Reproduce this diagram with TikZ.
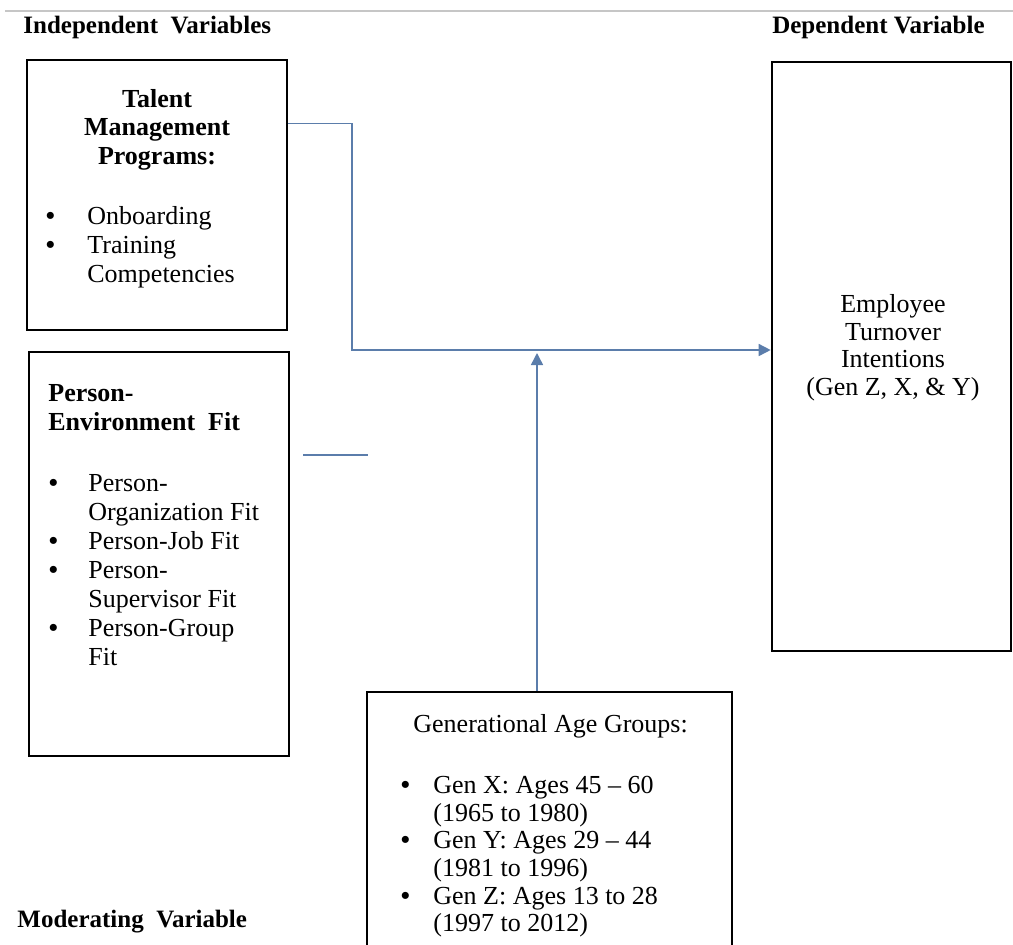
\documentclass[tikz,border=0pt]{standalone}
\usepackage{fontspec}
\setmainfont{Liberation Serif}
\usepackage{xcolor}
\usepackage{tikz}
\usetikzlibrary{arrows.meta, positioning, calc}
\definecolor{linkblue}{HTML}{5B7DAB}
\newcommand{\bulitem}[2][19pt]{\makebox[#1][l]{\bfseries\textbullet}#2}

\begin{document}
\begin{tikzpicture}[
    x=0.5pt, y=-0.5pt,
    varbox/.style={draw, line width=1.3pt, inner sep=0pt},
    boxtext/.style={inner sep=0pt, align=left, font=\fontsize{13pt}{14.5pt}\selectfont},
    heading/.style={inner sep=0pt, font=\bfseries\fontsize{12.5pt}{15pt}\selectfont},
    conn/.style={draw=linkblue, line width=0.75pt},
    connarrow/.style={conn, -{Triangle[length=6pt, width=6pt]}},
]
\clip (0,0) rectangle (1013,944);

% Headings
\draw[gray!45, line width=1pt] (5,11) -- (1013,11);
\node[heading, anchor=west] (indep) at (23,27) {Independent\ \ Variables};
\node[heading, anchor=east] (dep) at (985,27) {Dependent Variable};
\node[heading, anchor=west] (moder) at (17,922) {Moderating\ \ Variable};

% Independent variables
\node[varbox, minimum width=130pt, minimum height=135pt] (tmp) at (157,195) {};
\node[boxtext, align=center, anchor=north, font=\bfseries\fontsize{13pt}{14.25pt}\selectfont] (tmptitle) at (157,89) {Talent\\Management\\Programs:};
\node[boxtext, anchor=north west] (tmplist) at (45.5,206) {\bulitem[20.75pt]{Onboarding}\\\bulitem[20.75pt]{Training}\\\hspace*{20.75pt}Competencies};

\node[varbox, minimum width=130pt, minimum height=202pt] (pef) at (159,554) {};
\node[boxtext, anchor=north west, font=\bfseries\fontsize{13pt}{14.5pt}\selectfont] (peftitle) at (48,384) {Person-\\Environment\ \ Fit};
\node[boxtext, anchor=north west] (peflist) at (48.5,474) {\bulitem[19.75pt]{Person-}\\\hspace*{19.75pt}Organization Fit\\\bulitem[19.75pt]{Person-Job Fit}\\\bulitem[19.75pt]{Person-}\\\hspace*{19.75pt}Supervisor Fit\\\bulitem[19.75pt]{Person-Group}\\\hspace*{19.75pt}Fit};

% Dependent variable
\node[varbox, minimum width=119.5pt, minimum height=294.5pt] (eti) at (891.5,356.5) {};
\node[boxtext, align=center, anchor=north, font=\fontsize{13pt}{13.8pt}\selectfont] (etitext) at (893,294) {Employee\\Turnover\\Intentions\\(Gen Z, X, \& Y)};

% Moderating variable
\node[varbox, minimum width=182.5pt, minimum height=134pt] (gen) at (549.5,826) {};
\node[boxtext, anchor=north west] (gentitle) at (413,714) {Generational Age Groups:};
\node[boxtext, anchor=north west, font=\fontsize{13pt}{13.8pt}\selectfont] (genlist) at (400.5,776) {\bulitem[16.25pt]{Gen X: Ages 45 -- 60}\\\hspace*{16.25pt}(1965 to 1980)\\\bulitem[16.25pt]{Gen Y: Ages 29 -- 44}\\\hspace*{16.25pt}(1981 to 1996)\\\bulitem[16.25pt]{Gen Z: Ages 13 to 28}\\\hspace*{16.25pt}(1997 to 2012)};

% Connectors
\coordinate (split) at (352,350);
\coordinate (stub) at (303,455);
\coordinate (modtip) at (537,353);
\draw[connarrow] (tmp.north east) ++(0,65) -| (split) -- (split -| eti.west);
\draw[conn] (stub) -- ++(65,0);
\draw[connarrow] (gen.north -| modtip) -- (modtip);

\end{tikzpicture}
\end{document}
